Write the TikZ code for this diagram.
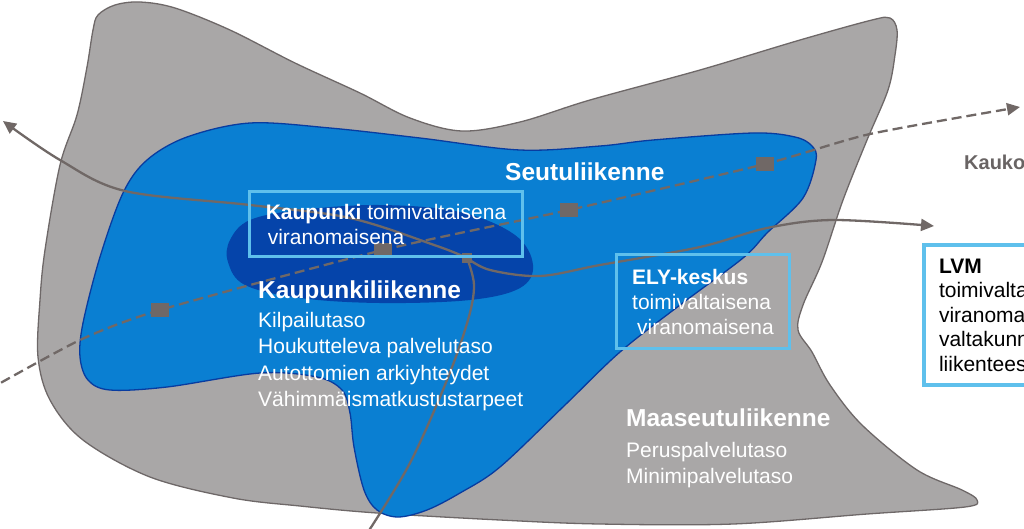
\documentclass[tikz,border=0pt]{standalone}
\usepackage{fontspec}
\setmainfont{Liberation Sans}
\usepackage{tikz}
\usetikzlibrary{shapes,arrows,arrows.meta,positioning}
\definecolor{harmaa}{RGB}{169,167,167}
\definecolor{harmaareuna}{RGB}{110,104,104}
\definecolor{sininen}{RGB}{10,127,210}
\definecolor{sinireuna}{RGB}{8,60,160}
\definecolor{tummasini}{RGB}{5,68,170}
\definecolor{kehys}{RGB}{95,192,236}
\definecolor{reitti}{RGB}{112,104,102}
\definecolor{kaukoteksti}{RGB}{105,100,100}

\begin{document}
\begin{tikzpicture}[x=1pt, y=-1pt, every node/.style = {inner sep=0pt, text=white}, heading/.style = {anchor=north west, font=\fontsize{24.5}{28}\selectfont\bfseries}, body/.style = {anchor=north west, align=left, font=\fontsize{21}{26.3}\selectfont}, frame/.style = {draw=kehys, line width=3pt, anchor=north west, align=left, inner xsep=15pt, font=\fontsize{21}{25}\selectfont}, route/.style = {draw=reitti, line width=2.3pt}, tip/.style = {-{Triangle[length=13pt,width=12pt]}}, halt/.style = {rectangle, fill=reitti, minimum width=18pt, minimum height=14pt}]
\useasboundingbox[fill=white] (0,0) rectangle (1024,528);
% alueet
\filldraw[fill=harmaa, draw=harmaareuna, line width=1.3pt] plot[smooth cycle, tension=0.55] coordinates {(87,67) (93,30) (98,15) (115,5) (140,2) (175,8) (230,30) (295,63) (360,93) (410,118) (462,131) (520,122) (590,100) (700,70) (800,40) (872,20) (890,18) (897,30) (895,55) (888,90) (867,140) (843,200) (822,262) (803,305) (798,330) (812,352) (830,385) (862,425) (917,470) (962,490) (977,500) (965,507) (867,514) (733,524) (600,524) (500,520) (377,513) (300,506) (233,498) (150,477) (83,440) (50,400) (38,357) (40,300) (45,250) (60,165) (77,115)};
\filldraw[fill=sininen, draw=sinireuna, line width=1.3pt] plot[smooth cycle, tension=0.55] coordinates {(187,137) (250,123) (330,128) (420,138) (520,150) (600,146) (653,140) (753,133) (795,137) (812,146) (816,160) (803,198) (767,233) (743,258) (680,305) (620,352) (565,405) (500,467) (460,493) (427,510) (398,517) (377,510) (364,490) (354,447) (350,413) (342,390) (317,377) (260,373) (167,387) (110,390) (88,380) (80,357) (83,323) (100,257) (123,193) (147,160)};
\fill[tummasini] plot[smooth cycle, tension=0.6] coordinates {(230,240) (250,220) (300,210) (380,205) (460,212) (515,235) (533,265) (520,288) (470,300) (380,303) (300,298) (245,285) (228,262)};
% reitit
\node[halt, minimum width=10pt, minimum height=9pt] (solmu) at (467,258) {};
\coordinate (vasen) at (3,121);
\coordinate (ala) at (368,532);
\coordinate (lvmkarki) at (934,226);
\coordinate (alku) at (-12,390);
\coordinate (kauko) at (1020,107);
\foreach \x/\y [count=\i] in {160/310, 383/250, 569/210, 765/164}
  { \node[halt] (s\i) at (\x,\y) {}; }
\draw[route, tip] plot[smooth, tension=0.55] coordinates {(solmu.center) (437,246) (350,218) (250,205) (125,191) (60,160) (vasen)};
\draw[route] plot[smooth, tension=0.55] coordinates {(solmu.center) (474,285) (468,320) (447,380) (410,463) (ala)};
\draw[route, tip] plot[smooth, tension=0.55] coordinates {(solmu.center) (490,270) (540,276) (600,265) (700,247) (767,228) (833,220) (lvmkarki)};
\draw[route, dash pattern=on 10pt off 5pt, tip] plot[smooth, tension=0.4] coordinates {(alku) (80,340) (s1.center) (s2.center) (s3.center) (s4.center) (870,134) (kauko)};
\foreach \i in {1,...,4}
  { \fill[reitti] (s\i.south west) rectangle (s\i.north east); }
\fill[reitti] (solmu.south west) rectangle (solmu.north east);
% tekstit
\node[frame, minimum width=273pt, minimum height=65pt] (kaupunki) at (248,190) {\textbf{Kaupunki} toimivaltaisena\\\hspace*{2pt}viranomaisena};
\node[frame, minimum width=173pt, minimum height=94pt] (ely) at (615,253) {\textbf{ELY-keskus}\\toimivaltaisena\\\hspace*{5pt}viranomaisena};
\node[frame, line width=4pt, fill=white, text=black, minimum height=140pt, font=\fontsize{21}{24.5}\selectfont] (lvm) at (922,243) {\textbf{LVM}\\toimivaltaisena\\viranomaisena\\valtakunnallisessa\\liikenteessä};
\node[heading] (seutu) at (505,163) {Seutuliikenne};
\node[heading] (kaupunkiliik) at (258,281) {Kaupunkiliikenne};
\node[body] (kaupunkitasot) at (258,312) {Kilpailutaso\\Houkutteleva palvelutaso\\Autottomien arkiyhteydet\\Vähimmäismatkustustarpeet};
\node[heading] (maaseutu) at (626,409) {Maaseutuliikenne};
\node[body, font=\fontsize{21}{26}\selectfont] (maaseututasot) at (626,442) {Peruspalvelutaso\\Minimipalvelutaso};
\node[heading, text=kaukoteksti, font=\fontsize{20}{24}\selectfont\bfseries] (kaukoliik) at (964,155) {Kaukoliikenne};
\end{tikzpicture}
\end{document}
